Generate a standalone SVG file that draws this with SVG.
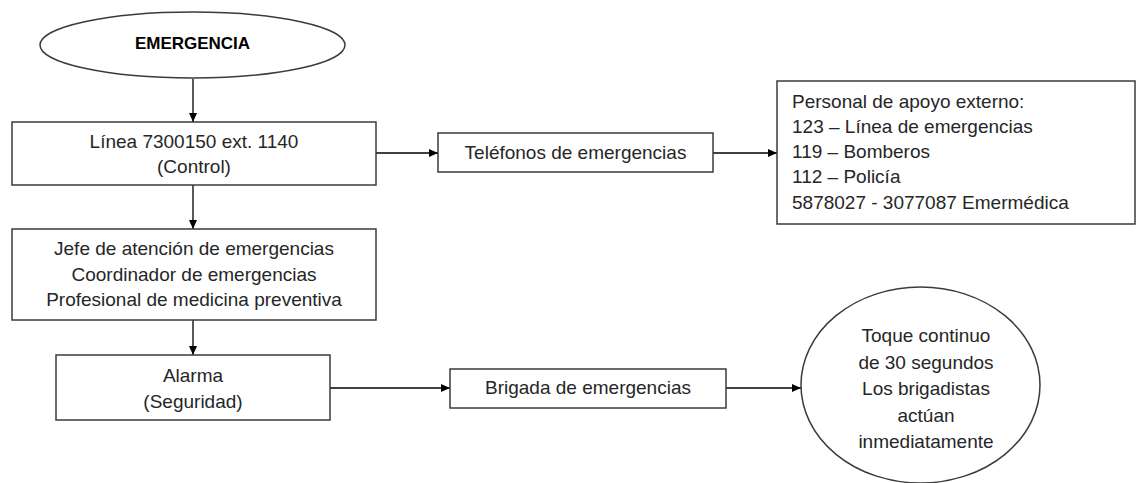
<svg xmlns="http://www.w3.org/2000/svg" width="1137" height="483" viewBox="0 0 1137 483">
<style>
.shape{fill:#fff;stroke:#3b3b3b;stroke-width:1.5}
.t{font-family:"Liberation Sans",Arial,sans-serif;font-size:19px;fill:#262626;text-anchor:middle}
.l{text-anchor:start}
.b{font-weight:bold;font-size:17px;fill:#000}
.c{stroke:#000;stroke-width:1.3;fill:none;marker-end:url(#ah)}
</style>
<defs>
<marker id="ah" markerWidth="10" markerHeight="10" refX="9" refY="5" orient="auto" markerUnits="userSpaceOnUse">
<path d="M0,1 L9,5 L0,9 Z" fill="#000"/>
</marker>
</defs>
<rect width="1137" height="483" fill="#fff"/>
<g id="connectors">
<line class="c" x1="193" y1="79" x2="193" y2="122"/>
<line class="c" x1="376" y1="153" x2="438" y2="153"/>
<line class="c" x1="713" y1="153" x2="777" y2="153"/>
<line class="c" x1="193" y1="185" x2="193" y2="229"/>
<line class="c" x1="193" y1="320" x2="193" y2="355"/>
<line class="c" x1="330" y1="388" x2="450" y2="388"/>
<line class="c" x1="726" y1="388" x2="801" y2="388"/>
</g>
<g id="emergencia">
<ellipse class="shape" cx="192.5" cy="45" rx="152.5" ry="33"/>
<text class="t b" x="192.5" y="49">EMERGENCIA</text>
</g>
<g id="linea">
<rect class="shape" x="12" y="122" width="364" height="63"/>
<text class="t" x="194" y="148">Línea 7300150 ext. 1140</text>
<text class="t" x="194" y="173">(Control)</text>
</g>
<g id="telefonos">
<rect class="shape" x="438" y="133" width="275" height="39"/>
<text class="t" x="575.5" y="159">Teléfonos de emergencias</text>
</g>
<g id="apoyo">
<rect class="shape" x="777" y="81" width="358" height="143"/>
<text class="t l" x="792" y="108">Personal de apoyo externo:</text>
<text class="t l" x="792" y="133">123 – Línea de emergencias</text>
<text class="t l" x="792" y="158">119 – Bomberos</text>
<text class="t l" x="792" y="183">112 – Policía</text>
<text class="t l" x="792" y="209">5878027 - 3077087 Emermédica</text>
</g>
<g id="jefe">
<rect class="shape" x="12" y="229" width="364" height="91"/>
<text class="t" x="194" y="255">Jefe de atención de emergencias</text>
<text class="t" x="194" y="281">Coordinador de emergencias</text>
<text class="t" x="194" y="306">Profesional de medicina preventiva</text>
</g>
<g id="alarma">
<rect class="shape" x="56" y="355" width="274" height="65"/>
<text class="t" x="193" y="382">Alarma</text>
<text class="t" x="193" y="408">(Seguridad)</text>
</g>
<g id="brigada">
<rect class="shape" x="450" y="369" width="276" height="39"/>
<text class="t" x="588" y="394">Brigada de emergencias</text>
</g>
<g id="toque">
<ellipse class="shape" cx="920.5" cy="385" rx="119.5" ry="98"/>
<text class="t" x="926" y="342">Toque continuo</text>
<text class="t" x="926" y="368.5">de 30 segundos</text>
<text class="t" x="926" y="395">Los brigadistas</text>
<text class="t" x="926" y="421.5">actúan</text>
<text class="t" x="926" y="448">inmediatamente</text>
</g>
</svg>
